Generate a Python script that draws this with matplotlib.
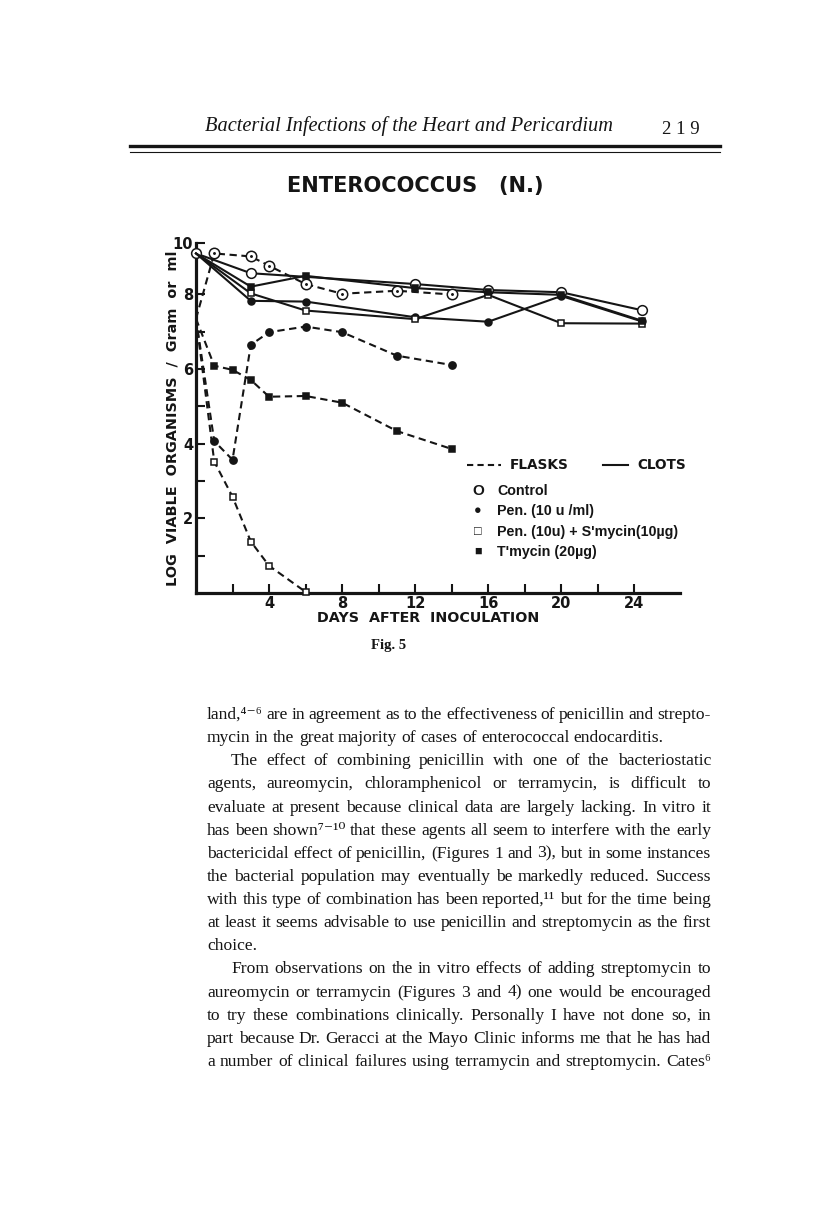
import numpy as np
import matplotlib
matplotlib.use("Agg")
import matplotlib.pyplot as plt
from matplotlib.lines import Line2D

# log viable organisms (days after inoculation)
# flasks (dashed)
ctrl_flask_day = [0, 1, 3, 4, 6, 8, 11, 14]
ctrl_flask_log = [7.35, 9.1, 9.02, 8.77, 8.28, 8.02, 8.1, 8.0]
pen_flask_day = [0, 1, 2, 3, 4, 6, 8, 11, 14]
pen_flask_log = [7.35, 4.07, 3.57, 6.65, 6.99, 7.14, 6.99, 6.36, 6.11]
pens_flask_day = [0, 1, 2, 3, 4, 6]
pens_flask_log = [7.35, 3.52, 2.58, 1.38, 0.73, 0.03]
tm_flask_day = [0, 1, 2, 3, 4, 6, 8, 11, 14]
tm_flask_log = [7.35, 6.09, 5.98, 5.71, 5.26, 5.28, 5.1, 4.34, 3.86]

# clots (solid)
ctrl_clot_day = [0, 3, 12, 16, 20, 24.4]
ctrl_clot_log = [9.1, 8.57, 8.28, 8.12, 8.06, 7.58]
pen_clot_day = [0, 3, 6, 12, 16, 20, 24.4]
pen_clot_log = [9.1, 7.83, 7.81, 7.39, 7.27, 7.96, 7.28]
pens_clot_day = [0, 3, 6, 12, 16, 20, 24.4]
pens_clot_log = [9.1, 8.03, 7.57, 7.34, 7.99, 7.23, 7.22]
tm_clot_day = [0, 3, 6, 12, 16, 20, 24.4]
tm_clot_log = [9.1, 8.21, 8.5, 8.17, 8.06, 7.99, 7.3]

x_ticks = [2, 4, 6, 8, 10, 12, 14, 16, 18, 20, 22, 24]
x_ticklabels = ["", "4", "", "8", "", "12", "", "16", "", "20", "", "24"]
# the printed scale tops out just above 9, where the axis carries the label "10"
y_top = 9.38
y_ticks = [1, 2, 3, 4, 5, 6, 7, 8, y_top]
y_ticklabels = ["", "2", "", "4", "", "6", "", "8", "10"]

legend_labels = ["Control", "Pen. (10 u /ml)", "Pen. (10u) + S'mycin(10\u00b5g)", "T'mycin (20\u00b5g)"]
legend_marks = ["O", "\u25cf", "\u25a1", "\u25a0"]

body_lines = [
    ("land,\u2074\u207b\u2076 are in agreement as to the effectiveness of penicillin and strepto-", False, True),
    ("mycin in the great majority of cases of enterococcal endocarditis.", False, False),
    ("The effect of combining penicillin with one of the bacteriostatic", True, True),
    ("agents, aureomycin, chloramphenicol or terramycin, is difficult to", False, True),
    ("evaluate at present because clinical data are largely lacking. In vitro it", False, True),
    ("has been shown\u2077\u207b\u00b9\u2070 that these agents all seem to interfere with the early", False, True),
    ("bactericidal effect of penicillin, (Figures 1 and 3), but in some instances", False, True),
    ("the bacterial population may eventually be markedly reduced. Success", False, True),
    ("with this type of combination has been reported,\u00b9\u00b9 but for the time being", False, True),
    ("at least it seems advisable to use penicillin and streptomycin as the first", False, True),
    ("choice.", False, False),
    ("From observations on the in vitro effects of adding streptomycin to", True, True),
    ("aureomycin or terramycin (Figures 3 and 4) one would be encouraged", False, True),
    ("to try these combinations clinically. Personally I have not done so, in", False, True),
    ("part because Dr. Geracci at the Mayo Clinic informs me that he has had", False, True),
    ("a number of clinical failures using terramycin and streptomycin. Cates\u2076", False, True),
]

W, H = 816, 1224
INK = "#151515"
SANS = ["Liberation Sans", "DejaVu Sans"]
WIDE = ["DejaVu Sans"]
SERIF = ["Liberation Serif", "DejaVu Serif"]


def fx(px):
    return px / W


def fy(py):
    return 1 - py / H


fig = plt.figure(figsize=(W / 100, H / 100), dpi=100)
fig.patch.set_facecolor("white")
renderer = fig.canvas.get_renderer()


def fitted(x, y, s, span, rotation=0, **kw):
    # scale the font so the string covers the span (pixels) it has in the scan
    t = fig.text(fx(x), fy(y), s, rotation=rotation, size=10, **kw)
    bb = t.get_window_extent(renderer)
    cur = bb.height if rotation else bb.width
    t.set_size(10 * span / cur)
    return t


# running head
fig.text(fx(205), fy(126), "Bacterial Infections of the Heart and Pericardium",
         family=SERIF, style="italic", size=14.7, color=INK, va="center", ha="left")
fig.text(fx(700), fy(129), "2 1 9", family=SERIF, size=13.5, color=INK, va="center", ha="right")
fig.add_artist(Line2D([fx(130), fx(720)], [fy(146), fy(146)], lw=2.4, color=INK))
fig.add_artist(Line2D([fx(130), fx(720)], [fy(152), fy(152)], lw=0.8, color=INK))

fitted(415, 186, "ENTEROCOCCUS   (N.)", 258, family=WIDE, weight="bold",
       color=INK, ha="center", va="center")

ax = fig.add_axes([fx(196), fy(593), (680 - 196) / W, (593 - 243) / H])
ax.set_xlim(0, 26.5)
ax.set_ylim(0, y_top)
for s in ["top", "right"]:
    ax.spines[s].set_visible(False)
for s in ["left", "bottom"]:
    ax.spines[s].set_linewidth(2.3)
    ax.spines[s].set_color(INK)
ax.set_xticks(x_ticks)
ax.set_xticklabels(x_ticklabels)
ax.set_yticks(y_ticks)
ax.set_yticklabels(y_ticklabels)
ax.tick_params(direction="in", length=6.5, width=1.5, colors=INK, labelsize=10.5, pad=2)
for lab in ax.get_xticklabels() + ax.get_yticklabels():
    lab.set_family(WIDE)
    lab.set_weight("bold")

dash = (0, (3.5, 2.2))


def draw(days, logs, ls, marker, fill, ms, skip_first=True):
    ax.plot(days, logs, linestyle=ls, color=INK, lw=1.5, marker=marker, ms=ms,
            mfc=fill, mec=INK, mew=1.1, clip_on=False, zorder=3,
            markevery=slice(1, None) if skip_first else None)


# clots
draw(ctrl_clot_day, ctrl_clot_log, "-", "o", "white", 7.0, skip_first=False)
draw(pen_clot_day, pen_clot_log, "-", "o", INK, 5.0)
draw(pens_clot_day, pens_clot_log, "-", "s", "white", 4.0)
draw(tm_clot_day, tm_clot_log, "-", "s", INK, 4.5)
# flasks
draw(pen_flask_day, pen_flask_log, dash, "o", INK, 5.2)
draw(pens_flask_day, pens_flask_log, dash, "s", "white", 4.2)
draw(tm_flask_day, tm_flask_log, dash, "s", INK, 4.5)
draw(ctrl_flask_day, ctrl_flask_log, dash, "o", "white", 7.5)
ax.plot(ctrl_flask_day[1:], ctrl_flask_log[1:], ".", color=INK, ms=2.2, zorder=4)

fitted(172, 418, "LOG  VIABLE  ORGANISMS  /  Gram  or  ml", 334, rotation=90,
       family=WIDE, weight="bold", color=INK, ha="center", va="center")
fitted(428, 618, "DAYS  AFTER  INOCULATION", 224, family=WIDE, weight="bold",
       color=INK, ha="center", va="center")
fig.text(fx(389), fy(646), "Fig. 5", family=SERIF, weight="bold", size=10.5,
         color=INK, ha="center", va="center")

# legend: line-style keys, then marker keys
fig.add_artist(Line2D([fx(467), fx(501)], [fy(465), fy(465)], lw=1.5, color=INK,
                      linestyle=(0, (3.0, 2.0))))
fig.add_artist(Line2D([fx(603), fx(628)], [fy(465), fy(465)], lw=1.5, color=INK))
fig.text(fx(510), fy(465), "FLASKS", family=WIDE, weight="bold", size=9.8,
         color=INK, ha="left", va="center")
fig.text(fx(637), fy(465), "CLOTS", family=WIDE, weight="bold", size=9.8,
         color=INK, ha="left", va="center")
for i, (mk, lab) in enumerate(zip(legend_marks, legend_labels)):
    yy = 491 + i * 20.3
    fig.text(fx(478), fy(yy), mk, family=SANS, weight="bold", size=9 if i else 11,
             color=INK, ha="center", va="center")
    fig.text(fx(497), fy(yy), lab, family=SANS, weight="bold", size=10.3,
             color=INK, ha="left", va="center")

# body text, justified word by word
left, right, indent = 207, 711, 231
body_size = 12.6
min_gap = 3.0

for i, (line, ind, just) in enumerate(body_lines):
    base = 719 + i * 23.13
    x0 = indent if ind else left
    words = line.split(" ")
    size = body_size
    while True:
        items = [fig.text(0, fy(base), w, family=SERIF, size=size, color=INK,
                          ha="left", va="baseline") for w in words]
        widths = [t.get_window_extent(renderer).width for t in items]
        if sum(widths) + min_gap * (len(words) - 1) <= right - x0 or size < 9:
            break
        for t in items:
            t.remove()
        size -= 0.2
    gap = size * 100 / 72 * 0.25
    if just and len(words) > 1:
        gap = (right - x0 - sum(widths)) / (len(words) - 1)
    x = x0
    for t, w in zip(items, widths):
        t.set_x(fx(x))
        x += w + gap

fig.savefig("out.png", dpi=100, facecolor="white")
